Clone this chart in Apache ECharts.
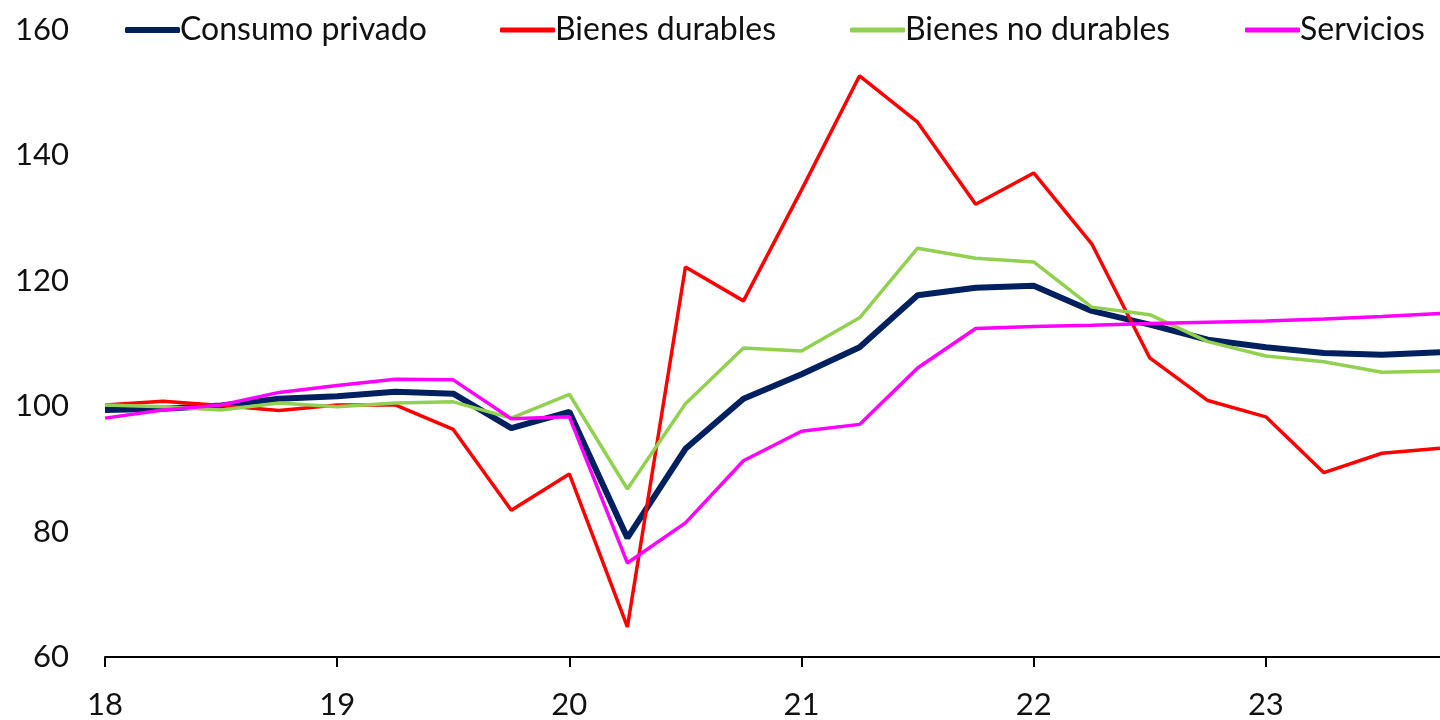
<!DOCTYPE html>
<html>
<head>
<meta charset="utf-8">
<script src="https://cdn.jsdelivr.net/npm/echarts@6/dist/echarts.min.js"></script>
<style>html,body{margin:0;padding:0;background:#fff}#c{width:1440px;height:720px}</style>
</head>
<body>
<div id="c"></div>
<script>
const categories = ['18T1','18T2','18T3','18T4','19T1','19T2','19T3','19T4','20T1','20T2','20T3','20T4','21T1','21T2','21T3','21T4','22T1','22T2','22T3','22T4','23T1','23T2','23T3','23T4'];
const tickLabels = {0:'18',4:'19',8:'20',12:'21',16:'22',20:'23'};
const consumo = [99.4,99.6,100.1,101.2,101.6,102.3,102.0,96.5,99.1,79.0,93.2,101.2,105.1,109.4,117.7,118.9,119.2,115.2,113.0,110.6,109.4,108.5,108.2,108.6];
const durables = [100.2,100.8,100.1,99.3,100.2,100.2,96.3,83.4,89.2,64.8,122.2,116.8,134.5,152.7,145.3,132.2,137.2,125.9,107.7,100.9,98.3,89.4,92.5,93.3];
const noDurables = [100.2,99.9,99.4,100.5,99.9,100.5,100.7,98.1,101.9,86.8,100.4,109.3,108.8,114.1,125.2,123.6,123.0,115.8,114.6,110.3,108.0,107.1,105.4,105.6];
const servicios = [98.1,99.4,100.2,102.2,103.3,104.3,104.2,98.0,98.3,75.0,81.4,91.3,96.0,97.1,106.1,112.4,112.7,112.9,113.2,113.4,113.6,113.9,114.3,114.8];
const names = ['Consumo privado','Bienes durables','Bienes no durables','Servicios'];
const colors = ['#002060','#FF0000','#92D050','#FF00FF'];
const widths = [6,3.5,3.5,3.5];
const dataSets = [consumo, durables, noDurables, servicios];
const legendLefts = [120, 495, 845, 1240];

const chart = echarts.init(document.getElementById('c'));
const font = 'Lato, "Open Sans", sans-serif';
chart.setOption({
  animation: false,
  textStyle: {fontFamily: font},
  grid: {left: 105, right: 0, top: 30, bottom: 63, containLabel: false},
  legend: names.map((n, i) => ({
    data: [n],
    left: legendLefts[i],
    top: 9,
    icon: 'roundRect',
    itemWidth: 55,
    itemHeight: i === 0 ? 6 : 5,
    itemGap: 0,
    textStyle: {fontSize: 32, color: '#111', fontFamily: font, padding: [0,0,0,-5]}
  })),
  xAxis: {
    type: 'category',
    data: categories,
    boundaryGap: false,
    axisLine: {lineStyle: {color: '#000', width: 2}},
    axisTick: {show: true, interval: 3, length: 10, lineStyle: {color: '#000', width: 2}},
    axisLabel: {interval: 3, formatter: (v, idx) => tickLabels[idx] || '', fontSize: 31, color: '#111', margin: 32, fontFamily: font},
    splitLine: {show: false}
  },
  yAxis: {
    type: 'value',
    min: 60, max: 160, interval: 20,
    axisLine: {show: false},
    axisTick: {show: false},
    splitLine: {show: false},
    axisLabel: {fontSize: 31, color: '#111', margin: 36, fontFamily: font}
  },
  series: dataSets.map((d, i) => ({
    name: names[i],
    type: 'line',
    data: d,
    showSymbol: false,
    symbol: 'none',
    color: colors[i],
    lineStyle: {color: colors[i], width: widths[i]},
    z: 2 + i
  }))
});
</script>
</body>
</html>
